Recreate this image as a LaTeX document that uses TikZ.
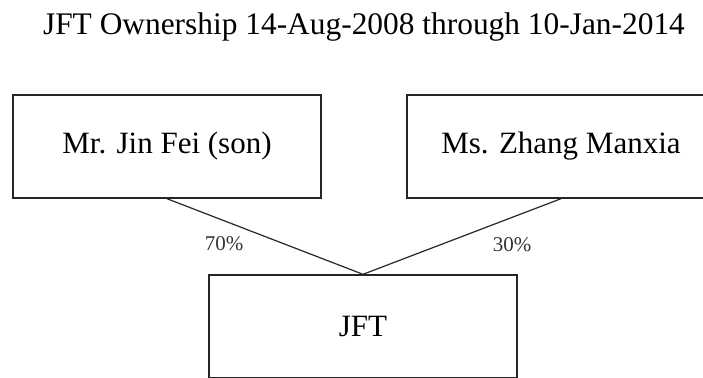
\documentclass[tikz,border=0pt]{standalone}
\usepackage{fontspec}
\setmainfont{Liberation Serif}
\usetikzlibrary{shadows}

\tikzset{
  ownerbox/.style={draw=black!85, line width=0.7pt, fill=white,
    minimum width=154pt, minimum height=51.5pt, inner sep=0pt,
    font=\fontsize{15.5}{18}\selectfont,
    drop shadow={shadow xshift=0.4pt, shadow yshift=-0.6pt, opacity=0.25}},
  share/.style={font=\fontsize{10.5}{12}\selectfont, text=black!80, anchor=base, inner sep=0pt},
  link/.style={draw=black!85, line width=0.6pt}
}

\begin{document}
\begin{tikzpicture}[x=0.5pt,y=-0.5pt]
      \clip (0,0) rectangle (703,377);
      \node[anchor=base, inner sep=0pt, font=\fontsize{15.7}{18}\selectfont] (title) at (364,34)
        {JFT Ownership 14-Aug-2008 through 10-Jan-2014};
      \node[ownerbox] (jinfei) at (167,146.5) {Mr. Jin Fei (son)};
      \node[ownerbox] (zhang) at (561,146.5) {Ms. Zhang Manxia};
      \node[ownerbox] (jft) at (363,326.5) {JFT};
      \draw[link] (jinfei.south) -- (jft.north);
      \draw[link] (zhang.south) -- (jft.north);
      \node[share] (sharejin) at (224,250) {70\%};
      \node[share] (sharezhang) at (512,251) {30\%};
    \end{tikzpicture}
\end{document}
